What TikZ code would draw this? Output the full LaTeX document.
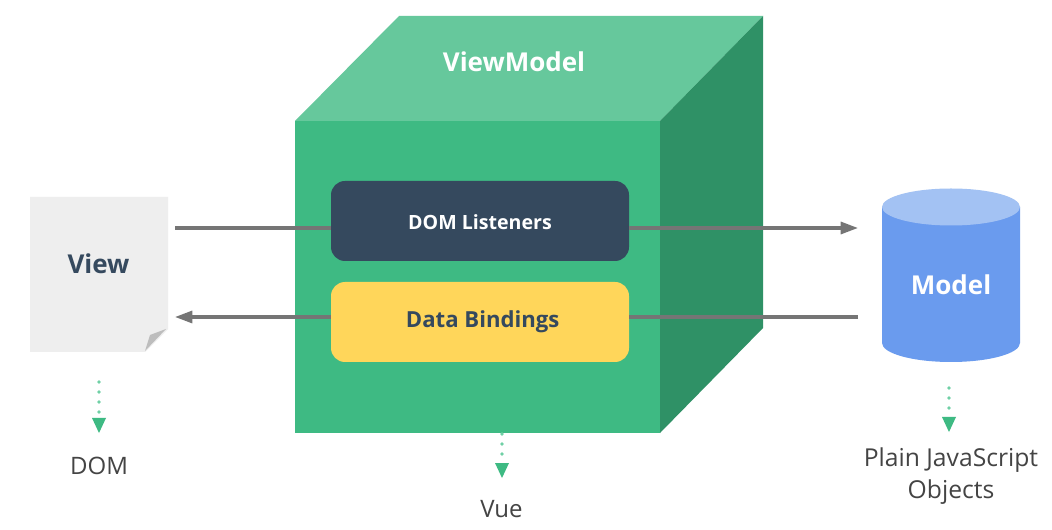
\documentclass[tikz,border=0pt]{standalone}
\usepackage{fontspec}
\setmainfont{Open Sans}
\usetikzlibrary{arrows.meta,calc}
\definecolor{cfront}{HTML}{3EBA83}
\definecolor{ctop}{HTML}{66C89C}
\definecolor{cside}{HTML}{2F9166}
\definecolor{cnavy}{HTML}{35495E}
\definecolor{cyel}{HTML}{FFD65A}
\definecolor{cblue}{HTML}{6A9BEE}
\definecolor{cbluetop}{HTML}{A3C2F3}
\definecolor{cpaper}{HTML}{EEEEEE}
\definecolor{cfold}{HTML}{BDBDBD}
\definecolor{cline}{HTML}{757575}
\definecolor{ctext}{HTML}{444444}
\definecolor{cdot}{HTML}{6FD0A5}
\tikzset{
  px/.style={x=0.75pt,y=-0.75pt},
  panel/.style={rounded corners=10.5pt,minimum width=223.5pt,minimum height=60pt,inner sep=0pt},
  flow/.style={draw=cline,line width=2.3pt,-{Triangle[length=13pt,width=9pt]}},
  flowplain/.style={draw=cline,line width=2.3pt},
  hint/.style={draw=cdot,line width=2.7pt,line cap=round,dash pattern=on 0pt off 7.5pt},
  hinthead/.style={fill=cfront},
  caption/.style={text=ctext,font=\fontsize{18}{24}\selectfont,align=center,inner sep=0pt},
  title/.style={font=\fontsize{19.5}{22}\selectfont\bfseries,inner sep=0pt}
}
\begin{document}
\begin{tikzpicture}[px]
\useasboundingbox (0,0) rectangle (1052,530);
\fill[white] (0,0) rectangle (1052,530);
% cube
\fill[ctop] (295,121) -- (399,16) -- (763,16) -- (660,121) -- cycle;
\fill[cside] (660,121) -- (763,16) -- (763,328) -- (660,433) -- cycle;
\fill[cfront] (295,121) rectangle (660,433);
\node[title,text=white] (vm) at (514,62) {ViewModel};
% view
\fill[cpaper] (30,197) -- (168,197) -- (168,329) -- (145,352) -- (30,352) -- cycle;
\fill[cfold] (166,329) -- (145,351) -- (150,335) -- cycle;
\node[title,text=cnavy] (view) at (98.5,264) {View};
% model
\fill[cblue] (882,207) -- (882,343) arc[start angle=180,end angle=360,x radius=69,y radius=-19] -- (1020,207) -- cycle;
\fill[cbluetop] (951,207) ellipse[x radius=69,y radius=18.5];
\node[title,text=white] (model) at (951,285) {Model};
% panels
\node[panel,fill=cnavy,text=white,font=\fontsize{14.7}{16}\selectfont\bfseries,text depth=0pt] (dom) at (480,221) {\raisebox{-1pt}{DOM Listeners}};
\node[panel,fill=cyel,text=cnavy,font=\fontsize{16.6}{18}\selectfont\bfseries] (data) at (480,322) {\hspace{4pt}\raisebox{-1.5pt}{Data Bindings}};
% flows
\coordinate (vo) at (175,228);
\coordinate (mi) at (858,228);
\coordinate (mo) at (858,317);
\coordinate (vi) at (175,317);
\draw[flowplain] (vo) -- (dom.west |- vo);
\draw[flow] (dom.east |- mi) -- (mi);
\draw[flowplain] (mo) -- (data.east |- mo);
\draw[flow] (data.west |- vi) -- (vi);
% captions
\node[caption] (domcap) at (99,466) {DOM};
\node[caption] (vuecap) at (501.5,509) {Vue};
\node[caption,font=\fontsize{18.5}{24.5}\selectfont] (objcap) at (951,476) {Plain JavaScript\\Objects};
% hints
\coordinate (h1s) at (99,382); \coordinate (h1e) at (99,418);
\coordinate (h2s) at (502,434); \coordinate (h2e) at (502,463);
\coordinate (h3s) at (949,388); \coordinate (h3e) at (949,417);
\draw[hint] (h1s) -- (h1e);
\draw[hint] (h2s) -- (h2e);
\draw[hint] (h3s) -- (h3e);
\foreach \p in {h1e,h2e,h3e}{
  \fill[hinthead] ($(\p)+(-7,0)$) -- ($(\p)+(7,0)$) -- ($(\p)+(0,15)$) -- cycle;
}
\end{tikzpicture}
\end{document}
